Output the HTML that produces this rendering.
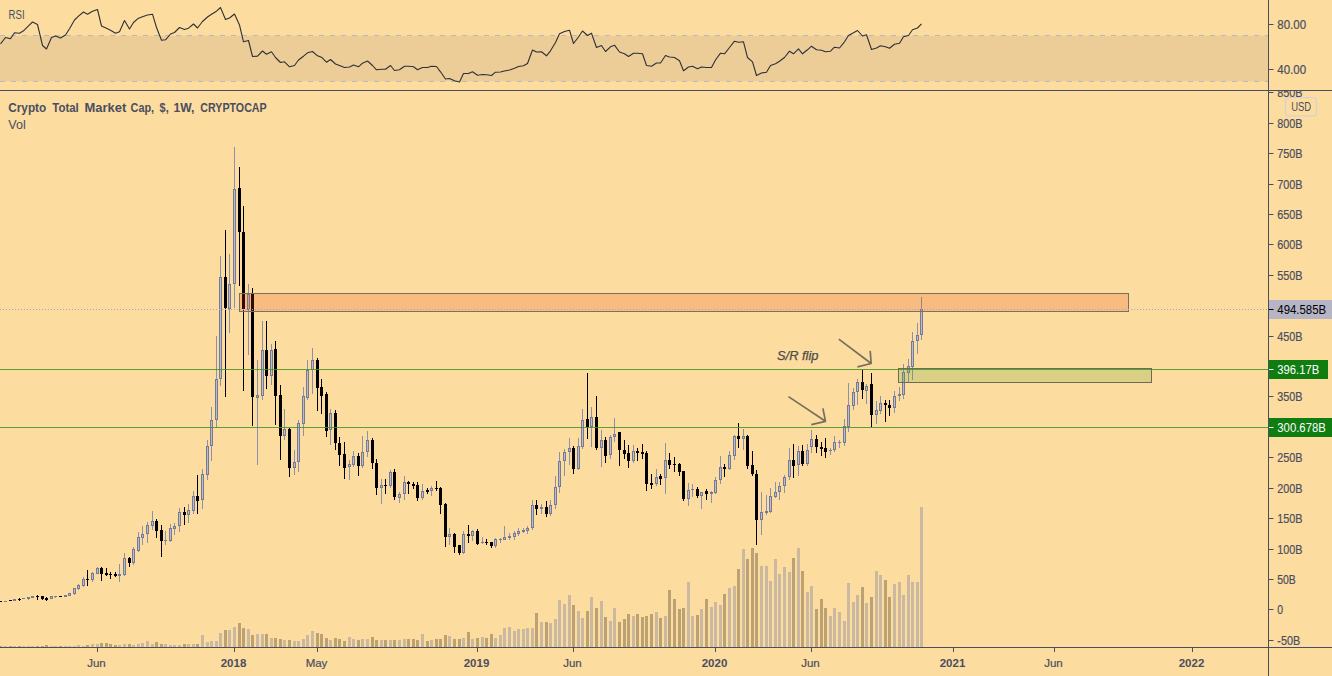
<!DOCTYPE html>
<html><head><meta charset="utf-8"><title>Crypto Total Market Cap</title>
<style>html,body{margin:0;padding:0;background:#fddca0;overflow:hidden}body{width:1332px;height:676px;font-family:"Liberation Sans",sans-serif}</style>
</head><body>
<svg width="1332" height="676" viewBox="0 0 1332 676" style="display:block" font-family="Liberation Sans, sans-serif">
<rect width="1332" height="676" fill="#fddca0"/>
<rect x="0" y="35.8" width="1268" height="45.4" fill="#eccd98"/>
<path d="M0 35.5H1268M0 81.5H1268" stroke="#b4b9c4" stroke-width="1" stroke-dasharray="5 6" fill="none"/>
<polyline points="0.5,43.8 5.5,37.5 10.5,38.8 14.5,32.8 19.5,33.2 23.5,30.8 28.5,25.8 32.5,22.0 37.5,24.5 42.5,45.5 46.5,49.0 51.5,37.5 55.5,36.0 60.5,38.0 65.5,35.0 69.5,28.8 74.5,20.0 78.5,16.2 83.5,12.0 87.5,14.2 92.5,11.2 97.5,9.5 101.5,26.0 106.5,28.2 110.5,30.2 115.5,33.2 119.5,31.8 124.5,20.5 129.5,29.0 133.5,22.5 138.5,18.2 142.5,16.8 147.5,15.0 152.5,14.2 156.5,27.5 161.5,40.2 165.5,39.8 170.5,34.0 174.5,32.5 179.5,27.5 184.5,29.5 188.5,28.2 193.5,24.0 197.5,28.0 202.5,21.5 207.5,17.0 211.5,14.2 216.5,11.2 220.5,7.5 225.5,19.5 229.5,18.0 234.5,14.0 239.5,25.0 243.5,41.8 248.5,40.5 252.5,56.5 257.5,56.2 262.5,51.0 266.5,54.2 271.5,51.8 275.5,57.5 280.5,62.5 284.5,61.8 289.5,66.8 294.5,65.5 298.5,60.0 303.5,56.2 307.5,52.8 312.5,51.5 317.5,55.8 321.5,57.2 326.5,62.2 330.5,59.5 335.5,64.0 339.5,65.5 344.5,67.5 349.5,67.0 353.5,65.0 358.5,66.8 362.5,63.2 367.5,61.0 372.5,65.5 376.5,69.8 381.5,69.2 385.5,69.2 390.5,65.5 394.5,70.5 399.5,69.8 404.5,66.2 408.5,66.2 413.5,66.8 417.5,69.8 422.5,67.5 427.5,67.5 431.5,66.2 436.5,66.5 440.5,71.8 445.5,79.0 449.5,78.5 454.5,80.8 459.5,82.0 463.5,73.5 468.5,73.5 472.5,71.8 477.5,75.2 482.5,74.5 486.5,74.8 491.5,75.5 495.5,72.2 500.5,72.0 504.5,71.0 509.5,70.0 514.5,68.2 518.5,66.5 523.5,65.8 527.5,63.5 532.5,50.0 536.5,52.0 541.5,51.8 546.5,55.8 550.5,50.8 555.5,42.5 559.5,33.8 564.5,31.5 569.5,30.2 573.5,43.5 578.5,37.0 582.5,31.0 587.5,35.5 591.5,33.2 596.5,47.5 601.5,45.5 605.5,51.5 610.5,46.8 614.5,45.2 619.5,52.0 624.5,53.8 628.5,56.5 633.5,53.2 637.5,53.2 642.5,53.8 646.5,65.5 651.5,66.2 656.5,63.0 660.5,63.0 665.5,55.5 669.5,57.0 674.5,57.5 679.5,60.8 683.5,70.8 688.5,67.0 692.5,66.2 697.5,68.8 701.5,67.0 706.5,67.5 711.5,67.5 715.5,60.0 720.5,53.2 724.5,53.8 729.5,47.5 734.5,41.2 738.5,42.2 743.5,41.8 747.5,57.5 752.5,61.8 756.5,75.5 761.5,73.0 766.5,72.2 770.5,65.5 775.5,63.8 779.5,61.2 784.5,57.5 789.5,51.2 793.5,53.8 798.5,48.8 802.5,53.8 807.5,49.8 811.5,46.2 816.5,49.8 821.5,50.2 825.5,51.8 830.5,51.2 834.5,47.2 839.5,48.0 844.5,41.8 848.5,35.5 853.5,32.8 857.5,30.5 862.5,36.0 866.5,34.8 871.5,49.5 876.5,48.0 880.5,45.8 885.5,46.8 889.5,48.2 894.5,44.2 899.5,43.2 903.5,36.8 908.5,35.5 912.5,29.8 917.5,28.0 921.5,23.8" fill="none" stroke="#2e3039" stroke-width="1.1" stroke-linejoin="round"/>
<g shape-rendering="crispEdges">
<rect x="-1" y="646.3" width="3" height="0.7" fill="#bca172"/>
<rect x="4" y="646.3" width="3" height="0.7" fill="#cab8a0"/>
<rect x="9" y="646.3" width="3" height="0.7" fill="#bca172"/>
<rect x="13" y="646.3" width="3" height="0.7" fill="#cab8a0"/>
<rect x="18" y="646.3" width="3" height="0.7" fill="#bca172"/>
<rect x="22" y="646.3" width="3" height="0.7" fill="#cab8a0"/>
<rect x="27" y="646.3" width="3" height="0.7" fill="#cab8a0"/>
<rect x="31" y="646.3" width="3" height="0.7" fill="#cab8a0"/>
<rect x="36" y="646.3" width="3" height="0.7" fill="#bca172"/>
<rect x="41" y="646.3" width="3" height="0.7" fill="#bca172"/>
<rect x="45" y="644.7" width="3" height="2.3" fill="#bca172"/>
<rect x="50" y="646.3" width="3" height="0.7" fill="#cab8a0"/>
<rect x="54" y="646.3" width="3" height="0.7" fill="#cab8a0"/>
<rect x="59" y="646.3" width="3" height="0.7" fill="#bca172"/>
<rect x="64" y="646.3" width="3" height="0.7" fill="#cab8a0"/>
<rect x="68" y="646.3" width="3" height="0.7" fill="#cab8a0"/>
<rect x="73" y="646.3" width="3" height="0.7" fill="#cab8a0"/>
<rect x="77" y="645.1" width="3" height="1.9" fill="#cab8a0"/>
<rect x="82" y="645.9" width="3" height="1.1" fill="#cab8a0"/>
<rect x="86" y="644.7" width="3" height="2.3" fill="#bca172"/>
<rect x="91" y="643.8" width="3" height="3.2" fill="#cab8a0"/>
<rect x="96" y="643.8" width="3" height="3.2" fill="#cab8a0"/>
<rect x="100" y="642.7" width="3" height="4.3" fill="#bca172"/>
<rect x="105" y="642.7" width="3" height="4.3" fill="#bca172"/>
<rect x="109" y="643.8" width="3" height="3.2" fill="#bca172"/>
<rect x="114" y="644.7" width="3" height="2.3" fill="#bca172"/>
<rect x="118" y="645.1" width="3" height="1.9" fill="#cab8a0"/>
<rect x="123" y="643.8" width="3" height="3.2" fill="#cab8a0"/>
<rect x="128" y="643.8" width="3" height="3.2" fill="#bca172"/>
<rect x="132" y="645.1" width="3" height="1.9" fill="#cab8a0"/>
<rect x="137" y="643.8" width="3" height="3.2" fill="#cab8a0"/>
<rect x="141" y="642.7" width="3" height="4.3" fill="#cab8a0"/>
<rect x="146" y="640.8" width="3" height="6.2" fill="#cab8a0"/>
<rect x="151" y="643.8" width="3" height="3.2" fill="#cab8a0"/>
<rect x="155" y="641.9" width="3" height="5.1" fill="#bca172"/>
<rect x="160" y="643.8" width="3" height="3.2" fill="#bca172"/>
<rect x="164" y="643.8" width="3" height="3.2" fill="#cab8a0"/>
<rect x="169" y="644.7" width="3" height="2.3" fill="#cab8a0"/>
<rect x="173" y="644.7" width="3" height="2.3" fill="#cab8a0"/>
<rect x="178" y="644.7" width="3" height="2.3" fill="#cab8a0"/>
<rect x="183" y="643.8" width="3" height="3.2" fill="#bca172"/>
<rect x="187" y="643.8" width="3" height="3.2" fill="#cab8a0"/>
<rect x="192" y="643.8" width="3" height="3.2" fill="#cab8a0"/>
<rect x="196" y="643.8" width="3" height="3.2" fill="#bca172"/>
<rect x="201" y="634.8" width="3" height="12.2" fill="#cab8a0"/>
<rect x="206" y="641.7" width="3" height="5.3" fill="#cab8a0"/>
<rect x="210" y="640.8" width="3" height="6.2" fill="#cab8a0"/>
<rect x="215" y="640.8" width="3" height="6.2" fill="#cab8a0"/>
<rect x="219" y="632.9" width="3" height="14.1" fill="#cab8a0"/>
<rect x="224" y="629.7" width="3" height="17.3" fill="#bca172"/>
<rect x="228" y="629.7" width="3" height="17.3" fill="#cab8a0"/>
<rect x="233" y="626.7" width="3" height="20.3" fill="#cab8a0"/>
<rect x="238" y="623.0" width="3" height="24.0" fill="#bca172"/>
<rect x="242" y="627.9" width="3" height="19.1" fill="#bca172"/>
<rect x="247" y="628.8" width="3" height="18.2" fill="#cab8a0"/>
<rect x="251" y="634.8" width="3" height="12.2" fill="#bca172"/>
<rect x="256" y="633.9" width="3" height="13.1" fill="#cab8a0"/>
<rect x="261" y="633.9" width="3" height="13.1" fill="#cab8a0"/>
<rect x="265" y="633.9" width="3" height="13.1" fill="#bca172"/>
<rect x="270" y="637.6" width="3" height="9.4" fill="#cab8a0"/>
<rect x="274" y="637.6" width="3" height="9.4" fill="#bca172"/>
<rect x="279" y="638.7" width="3" height="8.3" fill="#bca172"/>
<rect x="283" y="639.9" width="3" height="7.1" fill="#cab8a0"/>
<rect x="288" y="639.9" width="3" height="7.1" fill="#bca172"/>
<rect x="293" y="640.8" width="3" height="6.2" fill="#cab8a0"/>
<rect x="297" y="640.8" width="3" height="6.2" fill="#cab8a0"/>
<rect x="302" y="638.7" width="3" height="8.3" fill="#cab8a0"/>
<rect x="306" y="634.8" width="3" height="12.2" fill="#cab8a0"/>
<rect x="311" y="630.9" width="3" height="16.1" fill="#cab8a0"/>
<rect x="316" y="632.9" width="3" height="14.1" fill="#bca172"/>
<rect x="320" y="633.9" width="3" height="13.1" fill="#bca172"/>
<rect x="325" y="637.6" width="3" height="9.4" fill="#bca172"/>
<rect x="329" y="639.9" width="3" height="7.1" fill="#cab8a0"/>
<rect x="334" y="637.6" width="3" height="9.4" fill="#bca172"/>
<rect x="338" y="638.7" width="3" height="8.3" fill="#bca172"/>
<rect x="343" y="640.8" width="3" height="6.2" fill="#bca172"/>
<rect x="348" y="636.7" width="3" height="10.3" fill="#cab8a0"/>
<rect x="352" y="638.7" width="3" height="8.3" fill="#cab8a0"/>
<rect x="357" y="639.9" width="3" height="7.1" fill="#bca172"/>
<rect x="361" y="638.7" width="3" height="8.3" fill="#cab8a0"/>
<rect x="366" y="638.7" width="3" height="8.3" fill="#cab8a0"/>
<rect x="371" y="636.7" width="3" height="10.3" fill="#bca172"/>
<rect x="375" y="639.9" width="3" height="7.1" fill="#bca172"/>
<rect x="380" y="639.9" width="3" height="7.1" fill="#cab8a0"/>
<rect x="384" y="639.9" width="3" height="7.1" fill="#bca172"/>
<rect x="389" y="639.9" width="3" height="7.1" fill="#cab8a0"/>
<rect x="393" y="639.9" width="3" height="7.1" fill="#bca172"/>
<rect x="398" y="639.9" width="3" height="7.1" fill="#cab8a0"/>
<rect x="403" y="638.7" width="3" height="8.3" fill="#cab8a0"/>
<rect x="407" y="638.7" width="3" height="8.3" fill="#bca172"/>
<rect x="412" y="638.7" width="3" height="8.3" fill="#bca172"/>
<rect x="416" y="639.9" width="3" height="7.1" fill="#bca172"/>
<rect x="421" y="633.9" width="3" height="13.1" fill="#cab8a0"/>
<rect x="426" y="640.8" width="3" height="6.2" fill="#bca172"/>
<rect x="430" y="639.9" width="3" height="7.1" fill="#cab8a0"/>
<rect x="435" y="638.7" width="3" height="8.3" fill="#bca172"/>
<rect x="439" y="638.7" width="3" height="8.3" fill="#bca172"/>
<rect x="444" y="634.8" width="3" height="12.2" fill="#bca172"/>
<rect x="448" y="635.7" width="3" height="11.3" fill="#cab8a0"/>
<rect x="453" y="638.7" width="3" height="8.3" fill="#bca172"/>
<rect x="458" y="638.7" width="3" height="8.3" fill="#bca172"/>
<rect x="462" y="637.6" width="3" height="9.4" fill="#cab8a0"/>
<rect x="467" y="631.6" width="3" height="15.4" fill="#bca172"/>
<rect x="471" y="638.9" width="3" height="8.1" fill="#cab8a0"/>
<rect x="476" y="638.0" width="3" height="9.0" fill="#bca172"/>
<rect x="481" y="637.1" width="3" height="9.9" fill="#cab8a0"/>
<rect x="485" y="638.0" width="3" height="9.0" fill="#bca172"/>
<rect x="490" y="633.9" width="3" height="13.1" fill="#bca172"/>
<rect x="494" y="638.0" width="3" height="9.0" fill="#cab8a0"/>
<rect x="499" y="635.0" width="3" height="12.0" fill="#cab8a0"/>
<rect x="503" y="627.9" width="3" height="19.1" fill="#cab8a0"/>
<rect x="508" y="626.9" width="3" height="20.1" fill="#cab8a0"/>
<rect x="513" y="631.0" width="3" height="16.0" fill="#cab8a0"/>
<rect x="517" y="629.0" width="3" height="18.0" fill="#cab8a0"/>
<rect x="522" y="629.0" width="3" height="18.0" fill="#cab8a0"/>
<rect x="526" y="627.9" width="3" height="19.1" fill="#cab8a0"/>
<rect x="531" y="627.9" width="3" height="19.1" fill="#cab8a0"/>
<rect x="535" y="612.8" width="3" height="34.2" fill="#bca172"/>
<rect x="540" y="621.8" width="3" height="25.2" fill="#cab8a0"/>
<rect x="545" y="621.8" width="3" height="25.2" fill="#bca172"/>
<rect x="549" y="623.0" width="3" height="24.0" fill="#cab8a0"/>
<rect x="554" y="618.8" width="3" height="28.2" fill="#cab8a0"/>
<rect x="558" y="599.9" width="3" height="47.1" fill="#cab8a0"/>
<rect x="563" y="603.8" width="3" height="43.2" fill="#cab8a0"/>
<rect x="568" y="594.8" width="3" height="52.2" fill="#cab8a0"/>
<rect x="572" y="604.8" width="3" height="42.2" fill="#bca172"/>
<rect x="577" y="611.0" width="3" height="36.0" fill="#cab8a0"/>
<rect x="581" y="617.9" width="3" height="29.1" fill="#cab8a0"/>
<rect x="586" y="611.0" width="3" height="36.0" fill="#bca172"/>
<rect x="590" y="596.9" width="3" height="50.1" fill="#cab8a0"/>
<rect x="595" y="608.0" width="3" height="39.0" fill="#bca172"/>
<rect x="600" y="600.8" width="3" height="46.2" fill="#cab8a0"/>
<rect x="604" y="617.0" width="3" height="30.0" fill="#bca172"/>
<rect x="609" y="620.9" width="3" height="26.1" fill="#cab8a0"/>
<rect x="613" y="608.0" width="3" height="39.0" fill="#cab8a0"/>
<rect x="618" y="621.8" width="3" height="25.2" fill="#bca172"/>
<rect x="623" y="618.8" width="3" height="28.2" fill="#bca172"/>
<rect x="627" y="614.0" width="3" height="33.0" fill="#bca172"/>
<rect x="632" y="615.8" width="3" height="31.2" fill="#cab8a0"/>
<rect x="636" y="614.0" width="3" height="33.0" fill="#bca172"/>
<rect x="641" y="617.0" width="3" height="30.0" fill="#bca172"/>
<rect x="645" y="615.8" width="3" height="31.2" fill="#bca172"/>
<rect x="650" y="614.0" width="3" height="33.0" fill="#bca172"/>
<rect x="655" y="611.9" width="3" height="35.1" fill="#cab8a0"/>
<rect x="659" y="617.9" width="3" height="29.1" fill="#bca172"/>
<rect x="664" y="615.8" width="3" height="31.2" fill="#cab8a0"/>
<rect x="668" y="589.8" width="3" height="57.2" fill="#bca172"/>
<rect x="673" y="598.8" width="3" height="48.2" fill="#bca172"/>
<rect x="678" y="608.9" width="3" height="38.1" fill="#bca172"/>
<rect x="682" y="608.0" width="3" height="39.0" fill="#bca172"/>
<rect x="687" y="581.9" width="3" height="65.1" fill="#cab8a0"/>
<rect x="691" y="615.8" width="3" height="31.2" fill="#cab8a0"/>
<rect x="696" y="614.9" width="3" height="32.1" fill="#bca172"/>
<rect x="700" y="608.7" width="3" height="38.3" fill="#cab8a0"/>
<rect x="705" y="598.7" width="3" height="48.3" fill="#bca172"/>
<rect x="710" y="606.7" width="3" height="40.3" fill="#cab8a0"/>
<rect x="714" y="601.8" width="3" height="45.2" fill="#cab8a0"/>
<rect x="719" y="604.6" width="3" height="42.4" fill="#cab8a0"/>
<rect x="723" y="593.6" width="3" height="53.4" fill="#bca172"/>
<rect x="728" y="587.6" width="3" height="59.4" fill="#cab8a0"/>
<rect x="733" y="585.5" width="3" height="61.5" fill="#cab8a0"/>
<rect x="737" y="568.6" width="3" height="78.4" fill="#bca172"/>
<rect x="742" y="548.6" width="3" height="98.4" fill="#cab8a0"/>
<rect x="746" y="558.7" width="3" height="88.3" fill="#bca172"/>
<rect x="751" y="547.5" width="3" height="99.5" fill="#bca172"/>
<rect x="755" y="552.7" width="3" height="94.3" fill="#bca172"/>
<rect x="760" y="565.7" width="3" height="81.3" fill="#cab8a0"/>
<rect x="765" y="565.7" width="3" height="81.3" fill="#cab8a0"/>
<rect x="769" y="580.6" width="3" height="66.4" fill="#cab8a0"/>
<rect x="774" y="558.7" width="3" height="88.3" fill="#cab8a0"/>
<rect x="778" y="573.6" width="3" height="73.4" fill="#cab8a0"/>
<rect x="783" y="566.8" width="3" height="80.2" fill="#cab8a0"/>
<rect x="788" y="571.7" width="3" height="75.3" fill="#cab8a0"/>
<rect x="792" y="557.7" width="3" height="89.3" fill="#bca172"/>
<rect x="797" y="547.5" width="3" height="99.5" fill="#cab8a0"/>
<rect x="801" y="570.7" width="3" height="76.3" fill="#bca172"/>
<rect x="806" y="591.5" width="3" height="55.5" fill="#cab8a0"/>
<rect x="810" y="585.5" width="3" height="61.5" fill="#cab8a0"/>
<rect x="815" y="608.5" width="3" height="38.5" fill="#bca172"/>
<rect x="820" y="598.6" width="3" height="48.4" fill="#bca172"/>
<rect x="824" y="607.7" width="3" height="39.3" fill="#bca172"/>
<rect x="829" y="615.5" width="3" height="31.5" fill="#cab8a0"/>
<rect x="833" y="607.7" width="3" height="39.3" fill="#cab8a0"/>
<rect x="838" y="611.6" width="3" height="35.4" fill="#cab8a0"/>
<rect x="843" y="620.7" width="3" height="26.3" fill="#cab8a0"/>
<rect x="847" y="582.7" width="3" height="64.3" fill="#cab8a0"/>
<rect x="852" y="601.7" width="3" height="45.3" fill="#cab8a0"/>
<rect x="856" y="594.7" width="3" height="52.3" fill="#cab8a0"/>
<rect x="861" y="586.6" width="3" height="60.4" fill="#bca172"/>
<rect x="865" y="602.7" width="3" height="44.3" fill="#cab8a0"/>
<rect x="870" y="596.5" width="3" height="50.5" fill="#bca172"/>
<rect x="875" y="570.7" width="3" height="76.3" fill="#cab8a0"/>
<rect x="879" y="574.6" width="3" height="72.4" fill="#cab8a0"/>
<rect x="884" y="579.6" width="3" height="67.4" fill="#bca172"/>
<rect x="888" y="596.5" width="3" height="50.5" fill="#bca172"/>
<rect x="893" y="583.7" width="3" height="63.3" fill="#cab8a0"/>
<rect x="898" y="581.6" width="3" height="65.4" fill="#cab8a0"/>
<rect x="902" y="594.7" width="3" height="52.3" fill="#cab8a0"/>
<rect x="907" y="574.6" width="3" height="72.4" fill="#cab8a0"/>
<rect x="911" y="581.6" width="3" height="65.4" fill="#cab8a0"/>
<rect x="916" y="581.6" width="3" height="65.4" fill="#cab8a0"/>
<rect x="920" y="507.4" width="3" height="139.6" fill="#cab8a0"/>
</g>
<g shape-rendering="crispEdges">
<rect x="0" y="601" width="1" height="1" fill="#000000"/>
<rect x="-1" y="601" width="3" height="1" fill="#000000"/>
<rect x="5" y="601" width="1" height="1" fill="#8b90ac"/>
<rect x="4" y="601" width="3" height="1" fill="#747a96"/>
<rect x="10" y="600" width="1" height="1" fill="#000000"/>
<rect x="9" y="600" width="3" height="1" fill="#000000"/>
<rect x="14" y="599" width="1" height="2" fill="#8b90ac"/>
<rect x="13" y="599" width="3" height="2" fill="#747a96"/>
<rect x="19" y="598" width="1" height="3" fill="#000000"/>
<rect x="18" y="599" width="3" height="1" fill="#000000"/>
<rect x="23" y="598" width="1" height="1" fill="#8b90ac"/>
<rect x="22" y="598" width="3" height="1" fill="#747a96"/>
<rect x="28" y="597" width="1" height="3" fill="#8b90ac"/>
<rect x="27" y="597" width="3" height="2" fill="#747a96"/>
<rect x="32" y="596" width="1" height="2" fill="#8b90ac"/>
<rect x="31" y="596" width="3" height="2" fill="#747a96"/>
<rect x="37" y="595" width="1" height="5" fill="#000000"/>
<rect x="36" y="596" width="3" height="1" fill="#000000"/>
<rect x="42" y="596" width="1" height="4" fill="#000000"/>
<rect x="41" y="596" width="3" height="3" fill="#000000"/>
<rect x="46" y="597" width="1" height="4" fill="#000000"/>
<rect x="45" y="598" width="3" height="2" fill="#000000"/>
<rect x="51" y="596" width="1" height="3" fill="#8b90ac"/>
<rect x="50" y="596" width="3" height="3" fill="#747a96"/>
<rect x="51" y="597" width="1" height="1" fill="#bbbcc9"/>
<rect x="55" y="596" width="1" height="2" fill="#8b90ac"/>
<rect x="54" y="596" width="3" height="1" fill="#747a96"/>
<rect x="60" y="596" width="1" height="1" fill="#000000"/>
<rect x="59" y="596" width="3" height="1" fill="#000000"/>
<rect x="65" y="595" width="1" height="2" fill="#8b90ac"/>
<rect x="64" y="595" width="3" height="2" fill="#747a96"/>
<rect x="69" y="593" width="1" height="3" fill="#8b90ac"/>
<rect x="68" y="593" width="3" height="3" fill="#747a96"/>
<rect x="69" y="594" width="1" height="1" fill="#bbbcc9"/>
<rect x="74" y="588" width="1" height="7" fill="#8b90ac"/>
<rect x="73" y="588" width="3" height="6" fill="#747a96"/>
<rect x="74" y="589" width="1" height="4" fill="#bbbcc9"/>
<rect x="78" y="584" width="1" height="6" fill="#8b90ac"/>
<rect x="77" y="585" width="3" height="4" fill="#747a96"/>
<rect x="78" y="586" width="1" height="2" fill="#bbbcc9"/>
<rect x="83" y="577" width="1" height="10" fill="#8b90ac"/>
<rect x="82" y="579" width="3" height="7" fill="#747a96"/>
<rect x="83" y="580" width="1" height="5" fill="#bbbcc9"/>
<rect x="87" y="570" width="1" height="16" fill="#000000"/>
<rect x="86" y="579" width="3" height="1" fill="#000000"/>
<rect x="92" y="572" width="1" height="10" fill="#8b90ac"/>
<rect x="91" y="573" width="3" height="7" fill="#747a96"/>
<rect x="92" y="574" width="1" height="5" fill="#bbbcc9"/>
<rect x="97" y="567" width="1" height="7" fill="#8b90ac"/>
<rect x="96" y="568" width="3" height="6" fill="#747a96"/>
<rect x="97" y="569" width="1" height="4" fill="#bbbcc9"/>
<rect x="101" y="567" width="1" height="14" fill="#000000"/>
<rect x="100" y="568" width="3" height="6" fill="#000000"/>
<rect x="106" y="568" width="1" height="8" fill="#000000"/>
<rect x="105" y="573" width="3" height="2" fill="#000000"/>
<rect x="110" y="572" width="1" height="7" fill="#000000"/>
<rect x="109" y="574" width="3" height="1" fill="#000000"/>
<rect x="115" y="572" width="1" height="5" fill="#000000"/>
<rect x="114" y="574" width="3" height="2" fill="#000000"/>
<rect x="119" y="564" width="1" height="18" fill="#8b90ac"/>
<rect x="118" y="574" width="3" height="2" fill="#747a96"/>
<rect x="124" y="553" width="1" height="23" fill="#8b90ac"/>
<rect x="123" y="558" width="3" height="17" fill="#747a96"/>
<rect x="124" y="559" width="1" height="15" fill="#bbbcc9"/>
<rect x="129" y="557" width="1" height="10" fill="#000000"/>
<rect x="128" y="558" width="3" height="5" fill="#000000"/>
<rect x="133" y="547" width="1" height="18" fill="#8b90ac"/>
<rect x="132" y="549" width="3" height="14" fill="#747a96"/>
<rect x="133" y="550" width="1" height="12" fill="#bbbcc9"/>
<rect x="138" y="532" width="1" height="20" fill="#8b90ac"/>
<rect x="137" y="537" width="3" height="14" fill="#747a96"/>
<rect x="138" y="538" width="1" height="12" fill="#bbbcc9"/>
<rect x="142" y="526" width="1" height="19" fill="#8b90ac"/>
<rect x="141" y="534" width="3" height="4" fill="#747a96"/>
<rect x="142" y="535" width="1" height="2" fill="#bbbcc9"/>
<rect x="147" y="522" width="1" height="21" fill="#8b90ac"/>
<rect x="146" y="525" width="3" height="9" fill="#747a96"/>
<rect x="147" y="526" width="1" height="7" fill="#bbbcc9"/>
<rect x="152" y="511" width="1" height="19" fill="#8b90ac"/>
<rect x="151" y="521" width="3" height="5" fill="#747a96"/>
<rect x="152" y="522" width="1" height="3" fill="#bbbcc9"/>
<rect x="156" y="519" width="1" height="19" fill="#000000"/>
<rect x="155" y="521" width="3" height="10" fill="#000000"/>
<rect x="161" y="525" width="1" height="32" fill="#000000"/>
<rect x="160" y="530" width="3" height="11" fill="#000000"/>
<rect x="165" y="531" width="1" height="14" fill="#8b90ac"/>
<rect x="164" y="540" width="3" height="1" fill="#747a96"/>
<rect x="170" y="524" width="1" height="18" fill="#8b90ac"/>
<rect x="169" y="528" width="3" height="13" fill="#747a96"/>
<rect x="170" y="529" width="1" height="11" fill="#bbbcc9"/>
<rect x="174" y="523" width="1" height="12" fill="#8b90ac"/>
<rect x="173" y="526" width="3" height="3" fill="#747a96"/>
<rect x="174" y="527" width="1" height="1" fill="#bbbcc9"/>
<rect x="179" y="508" width="1" height="24" fill="#8b90ac"/>
<rect x="178" y="512" width="3" height="14" fill="#747a96"/>
<rect x="179" y="513" width="1" height="12" fill="#bbbcc9"/>
<rect x="184" y="507" width="1" height="18" fill="#000000"/>
<rect x="183" y="512" width="3" height="3" fill="#000000"/>
<rect x="188" y="504" width="1" height="19" fill="#8b90ac"/>
<rect x="187" y="510" width="3" height="5" fill="#747a96"/>
<rect x="188" y="511" width="1" height="3" fill="#bbbcc9"/>
<rect x="193" y="491" width="1" height="23" fill="#8b90ac"/>
<rect x="192" y="496" width="3" height="15" fill="#747a96"/>
<rect x="193" y="497" width="1" height="13" fill="#bbbcc9"/>
<rect x="197" y="475" width="1" height="39" fill="#000000"/>
<rect x="196" y="496" width="3" height="5" fill="#000000"/>
<rect x="202" y="469" width="1" height="40" fill="#8b90ac"/>
<rect x="201" y="474" width="3" height="26" fill="#747a96"/>
<rect x="202" y="475" width="1" height="24" fill="#bbbcc9"/>
<rect x="207" y="440" width="1" height="40" fill="#8b90ac"/>
<rect x="206" y="446" width="3" height="29" fill="#747a96"/>
<rect x="207" y="447" width="1" height="27" fill="#bbbcc9"/>
<rect x="211" y="407" width="1" height="54" fill="#8b90ac"/>
<rect x="210" y="420" width="3" height="26" fill="#747a96"/>
<rect x="211" y="421" width="1" height="24" fill="#bbbcc9"/>
<rect x="216" y="336" width="1" height="92" fill="#8b90ac"/>
<rect x="215" y="379" width="3" height="41" fill="#747a96"/>
<rect x="216" y="380" width="1" height="39" fill="#bbbcc9"/>
<rect x="220" y="256" width="1" height="130" fill="#8b90ac"/>
<rect x="219" y="277" width="3" height="102" fill="#747a96"/>
<rect x="220" y="278" width="1" height="100" fill="#bbbcc9"/>
<rect x="225" y="230" width="1" height="167" fill="#000000"/>
<rect x="224" y="277" width="3" height="31" fill="#000000"/>
<rect x="229" y="254" width="1" height="79" fill="#8b90ac"/>
<rect x="228" y="284" width="3" height="25" fill="#747a96"/>
<rect x="229" y="285" width="1" height="23" fill="#bbbcc9"/>
<rect x="234" y="147" width="1" height="161" fill="#8b90ac"/>
<rect x="233" y="189" width="3" height="95" fill="#747a96"/>
<rect x="234" y="190" width="1" height="93" fill="#bbbcc9"/>
<rect x="239" y="167" width="1" height="119" fill="#000000"/>
<rect x="238" y="188" width="3" height="44" fill="#000000"/>
<rect x="243" y="206" width="1" height="185" fill="#000000"/>
<rect x="242" y="232" width="3" height="77" fill="#000000"/>
<rect x="248" y="284" width="1" height="71" fill="#8b90ac"/>
<rect x="247" y="294" width="3" height="16" fill="#747a96"/>
<rect x="248" y="295" width="1" height="14" fill="#bbbcc9"/>
<rect x="252" y="288" width="1" height="138" fill="#000000"/>
<rect x="251" y="294" width="3" height="103" fill="#000000"/>
<rect x="257" y="360" width="1" height="105" fill="#8b90ac"/>
<rect x="256" y="395" width="3" height="3" fill="#747a96"/>
<rect x="257" y="396" width="1" height="1" fill="#bbbcc9"/>
<rect x="262" y="321" width="1" height="79" fill="#8b90ac"/>
<rect x="261" y="350" width="3" height="46" fill="#747a96"/>
<rect x="262" y="351" width="1" height="44" fill="#bbbcc9"/>
<rect x="266" y="321" width="1" height="68" fill="#000000"/>
<rect x="265" y="350" width="3" height="26" fill="#000000"/>
<rect x="271" y="344" width="1" height="41" fill="#8b90ac"/>
<rect x="270" y="350" width="3" height="26" fill="#747a96"/>
<rect x="271" y="351" width="1" height="24" fill="#bbbcc9"/>
<rect x="275" y="341" width="1" height="84" fill="#000000"/>
<rect x="274" y="349" width="3" height="47" fill="#000000"/>
<rect x="280" y="385" width="1" height="75" fill="#000000"/>
<rect x="279" y="395" width="3" height="41" fill="#000000"/>
<rect x="284" y="409" width="1" height="31" fill="#8b90ac"/>
<rect x="283" y="429" width="3" height="7" fill="#747a96"/>
<rect x="284" y="430" width="1" height="5" fill="#bbbcc9"/>
<rect x="289" y="428" width="1" height="49" fill="#000000"/>
<rect x="288" y="429" width="3" height="39" fill="#000000"/>
<rect x="294" y="450" width="1" height="25" fill="#8b90ac"/>
<rect x="293" y="462" width="3" height="6" fill="#747a96"/>
<rect x="294" y="463" width="1" height="4" fill="#bbbcc9"/>
<rect x="298" y="420" width="1" height="52" fill="#8b90ac"/>
<rect x="297" y="423" width="3" height="39" fill="#747a96"/>
<rect x="298" y="424" width="1" height="37" fill="#bbbcc9"/>
<rect x="303" y="387" width="1" height="49" fill="#8b90ac"/>
<rect x="302" y="396" width="3" height="28" fill="#747a96"/>
<rect x="303" y="397" width="1" height="26" fill="#bbbcc9"/>
<rect x="307" y="360" width="1" height="40" fill="#8b90ac"/>
<rect x="306" y="370" width="3" height="28" fill="#747a96"/>
<rect x="307" y="371" width="1" height="26" fill="#bbbcc9"/>
<rect x="312" y="348" width="1" height="46" fill="#8b90ac"/>
<rect x="311" y="360" width="3" height="10" fill="#747a96"/>
<rect x="312" y="361" width="1" height="8" fill="#bbbcc9"/>
<rect x="317" y="358" width="1" height="53" fill="#000000"/>
<rect x="316" y="360" width="3" height="28" fill="#000000"/>
<rect x="321" y="379" width="1" height="35" fill="#000000"/>
<rect x="320" y="387" width="3" height="9" fill="#000000"/>
<rect x="326" y="392" width="1" height="45" fill="#000000"/>
<rect x="325" y="394" width="3" height="37" fill="#000000"/>
<rect x="330" y="409" width="1" height="36" fill="#8b90ac"/>
<rect x="329" y="413" width="3" height="17" fill="#747a96"/>
<rect x="330" y="414" width="1" height="15" fill="#bbbcc9"/>
<rect x="335" y="410" width="1" height="40" fill="#000000"/>
<rect x="334" y="413" width="3" height="30" fill="#000000"/>
<rect x="339" y="437" width="1" height="29" fill="#000000"/>
<rect x="338" y="443" width="3" height="12" fill="#000000"/>
<rect x="344" y="442" width="1" height="37" fill="#000000"/>
<rect x="343" y="454" width="3" height="14" fill="#000000"/>
<rect x="349" y="460" width="1" height="20" fill="#8b90ac"/>
<rect x="348" y="464" width="3" height="3" fill="#747a96"/>
<rect x="349" y="465" width="1" height="1" fill="#bbbcc9"/>
<rect x="353" y="451" width="1" height="16" fill="#8b90ac"/>
<rect x="352" y="456" width="3" height="9" fill="#747a96"/>
<rect x="353" y="457" width="1" height="7" fill="#bbbcc9"/>
<rect x="358" y="453" width="1" height="23" fill="#000000"/>
<rect x="357" y="456" width="3" height="10" fill="#000000"/>
<rect x="362" y="436" width="1" height="32" fill="#8b90ac"/>
<rect x="361" y="452" width="3" height="14" fill="#747a96"/>
<rect x="362" y="453" width="1" height="12" fill="#bbbcc9"/>
<rect x="367" y="431" width="1" height="26" fill="#8b90ac"/>
<rect x="366" y="440" width="3" height="12" fill="#747a96"/>
<rect x="367" y="441" width="1" height="10" fill="#bbbcc9"/>
<rect x="372" y="438" width="1" height="31" fill="#000000"/>
<rect x="371" y="440" width="3" height="23" fill="#000000"/>
<rect x="376" y="459" width="1" height="36" fill="#000000"/>
<rect x="375" y="463" width="3" height="25" fill="#000000"/>
<rect x="381" y="479" width="1" height="25" fill="#8b90ac"/>
<rect x="380" y="485" width="3" height="3" fill="#747a96"/>
<rect x="381" y="486" width="1" height="1" fill="#bbbcc9"/>
<rect x="385" y="479" width="1" height="15" fill="#000000"/>
<rect x="384" y="485" width="3" height="1" fill="#000000"/>
<rect x="390" y="470" width="1" height="18" fill="#8b90ac"/>
<rect x="389" y="472" width="3" height="14" fill="#747a96"/>
<rect x="390" y="473" width="1" height="12" fill="#bbbcc9"/>
<rect x="394" y="469" width="1" height="31" fill="#000000"/>
<rect x="393" y="472" width="3" height="25" fill="#000000"/>
<rect x="399" y="492" width="1" height="11" fill="#8b90ac"/>
<rect x="398" y="494" width="3" height="4" fill="#747a96"/>
<rect x="399" y="495" width="1" height="2" fill="#bbbcc9"/>
<rect x="404" y="476" width="1" height="24" fill="#8b90ac"/>
<rect x="403" y="482" width="3" height="12" fill="#747a96"/>
<rect x="404" y="483" width="1" height="10" fill="#bbbcc9"/>
<rect x="408" y="481" width="1" height="13" fill="#000000"/>
<rect x="407" y="482" width="3" height="2" fill="#000000"/>
<rect x="413" y="482" width="1" height="7" fill="#000000"/>
<rect x="412" y="484" width="3" height="2" fill="#000000"/>
<rect x="417" y="482" width="1" height="19" fill="#000000"/>
<rect x="416" y="485" width="3" height="13" fill="#000000"/>
<rect x="422" y="484" width="1" height="16" fill="#8b90ac"/>
<rect x="421" y="491" width="3" height="7" fill="#747a96"/>
<rect x="422" y="492" width="1" height="5" fill="#bbbcc9"/>
<rect x="427" y="488" width="1" height="6" fill="#000000"/>
<rect x="426" y="490" width="3" height="2" fill="#000000"/>
<rect x="431" y="486" width="1" height="10" fill="#8b90ac"/>
<rect x="430" y="488" width="3" height="3" fill="#747a96"/>
<rect x="431" y="489" width="1" height="1" fill="#bbbcc9"/>
<rect x="436" y="481" width="1" height="10" fill="#000000"/>
<rect x="435" y="488" width="3" height="1" fill="#000000"/>
<rect x="440" y="487" width="1" height="27" fill="#000000"/>
<rect x="439" y="488" width="3" height="17" fill="#000000"/>
<rect x="445" y="503" width="1" height="44" fill="#000000"/>
<rect x="444" y="504" width="3" height="33" fill="#000000"/>
<rect x="449" y="528" width="1" height="17" fill="#8b90ac"/>
<rect x="448" y="534" width="3" height="3" fill="#747a96"/>
<rect x="449" y="535" width="1" height="1" fill="#bbbcc9"/>
<rect x="454" y="533" width="1" height="20" fill="#000000"/>
<rect x="453" y="534" width="3" height="13" fill="#000000"/>
<rect x="459" y="545" width="1" height="10" fill="#000000"/>
<rect x="458" y="545" width="3" height="8" fill="#000000"/>
<rect x="463" y="531" width="1" height="23" fill="#8b90ac"/>
<rect x="462" y="534" width="3" height="19" fill="#747a96"/>
<rect x="463" y="535" width="1" height="17" fill="#bbbcc9"/>
<rect x="468" y="525" width="1" height="18" fill="#000000"/>
<rect x="467" y="534" width="3" height="2" fill="#000000"/>
<rect x="472" y="530" width="1" height="11" fill="#8b90ac"/>
<rect x="471" y="531" width="3" height="5" fill="#747a96"/>
<rect x="472" y="532" width="1" height="3" fill="#bbbcc9"/>
<rect x="477" y="529" width="1" height="16" fill="#000000"/>
<rect x="476" y="531" width="3" height="13" fill="#000000"/>
<rect x="482" y="537" width="1" height="7" fill="#8b90ac"/>
<rect x="481" y="542" width="3" height="1" fill="#747a96"/>
<rect x="486" y="539" width="1" height="6" fill="#000000"/>
<rect x="485" y="542" width="3" height="1" fill="#000000"/>
<rect x="491" y="542" width="1" height="6" fill="#000000"/>
<rect x="490" y="542" width="3" height="4" fill="#000000"/>
<rect x="495" y="538" width="1" height="10" fill="#8b90ac"/>
<rect x="494" y="539" width="3" height="7" fill="#747a96"/>
<rect x="495" y="540" width="1" height="5" fill="#bbbcc9"/>
<rect x="500" y="538" width="1" height="5" fill="#8b90ac"/>
<rect x="499" y="539" width="3" height="1" fill="#747a96"/>
<rect x="504" y="526" width="1" height="14" fill="#8b90ac"/>
<rect x="503" y="537" width="3" height="3" fill="#747a96"/>
<rect x="504" y="538" width="1" height="1" fill="#bbbcc9"/>
<rect x="509" y="533" width="1" height="7" fill="#8b90ac"/>
<rect x="508" y="536" width="3" height="2" fill="#747a96"/>
<rect x="514" y="531" width="1" height="9" fill="#8b90ac"/>
<rect x="513" y="533" width="3" height="4" fill="#747a96"/>
<rect x="514" y="534" width="1" height="2" fill="#bbbcc9"/>
<rect x="518" y="528" width="1" height="8" fill="#8b90ac"/>
<rect x="517" y="531" width="3" height="3" fill="#747a96"/>
<rect x="518" y="532" width="1" height="1" fill="#bbbcc9"/>
<rect x="523" y="528" width="1" height="5" fill="#8b90ac"/>
<rect x="522" y="530" width="3" height="2" fill="#747a96"/>
<rect x="527" y="526" width="1" height="8" fill="#8b90ac"/>
<rect x="526" y="528" width="3" height="3" fill="#747a96"/>
<rect x="527" y="529" width="1" height="1" fill="#bbbcc9"/>
<rect x="532" y="500" width="1" height="30" fill="#8b90ac"/>
<rect x="531" y="505" width="3" height="23" fill="#747a96"/>
<rect x="532" y="506" width="1" height="21" fill="#bbbcc9"/>
<rect x="536" y="500" width="1" height="15" fill="#000000"/>
<rect x="535" y="505" width="3" height="4" fill="#000000"/>
<rect x="541" y="504" width="1" height="10" fill="#8b90ac"/>
<rect x="540" y="507" width="3" height="2" fill="#747a96"/>
<rect x="546" y="501" width="1" height="16" fill="#000000"/>
<rect x="545" y="507" width="3" height="7" fill="#000000"/>
<rect x="550" y="500" width="1" height="16" fill="#8b90ac"/>
<rect x="549" y="505" width="3" height="9" fill="#747a96"/>
<rect x="550" y="506" width="1" height="7" fill="#bbbcc9"/>
<rect x="555" y="476" width="1" height="33" fill="#8b90ac"/>
<rect x="554" y="487" width="3" height="18" fill="#747a96"/>
<rect x="555" y="488" width="1" height="16" fill="#bbbcc9"/>
<rect x="559" y="452" width="1" height="41" fill="#8b90ac"/>
<rect x="558" y="461" width="3" height="26" fill="#747a96"/>
<rect x="559" y="462" width="1" height="24" fill="#bbbcc9"/>
<rect x="564" y="449" width="1" height="27" fill="#8b90ac"/>
<rect x="563" y="452" width="3" height="9" fill="#747a96"/>
<rect x="564" y="453" width="1" height="7" fill="#bbbcc9"/>
<rect x="569" y="438" width="1" height="27" fill="#8b90ac"/>
<rect x="568" y="448" width="3" height="4" fill="#747a96"/>
<rect x="569" y="449" width="1" height="2" fill="#bbbcc9"/>
<rect x="573" y="446" width="1" height="28" fill="#000000"/>
<rect x="572" y="448" width="3" height="21" fill="#000000"/>
<rect x="578" y="438" width="1" height="32" fill="#8b90ac"/>
<rect x="577" y="446" width="3" height="23" fill="#747a96"/>
<rect x="578" y="447" width="1" height="21" fill="#bbbcc9"/>
<rect x="582" y="409" width="1" height="40" fill="#8b90ac"/>
<rect x="581" y="420" width="3" height="27" fill="#747a96"/>
<rect x="582" y="421" width="1" height="25" fill="#bbbcc9"/>
<rect x="587" y="373" width="1" height="66" fill="#000000"/>
<rect x="586" y="419" width="3" height="8" fill="#000000"/>
<rect x="591" y="407" width="1" height="40" fill="#8b90ac"/>
<rect x="590" y="417" width="3" height="10" fill="#747a96"/>
<rect x="591" y="418" width="1" height="8" fill="#bbbcc9"/>
<rect x="596" y="396" width="1" height="54" fill="#000000"/>
<rect x="595" y="417" width="3" height="31" fill="#000000"/>
<rect x="601" y="430" width="1" height="37" fill="#8b90ac"/>
<rect x="600" y="440" width="3" height="8" fill="#747a96"/>
<rect x="601" y="441" width="1" height="6" fill="#bbbcc9"/>
<rect x="605" y="437" width="1" height="26" fill="#000000"/>
<rect x="604" y="440" width="3" height="16" fill="#000000"/>
<rect x="610" y="435" width="1" height="24" fill="#8b90ac"/>
<rect x="609" y="437" width="3" height="18" fill="#747a96"/>
<rect x="610" y="438" width="1" height="16" fill="#bbbcc9"/>
<rect x="614" y="418" width="1" height="24" fill="#8b90ac"/>
<rect x="613" y="434" width="3" height="3" fill="#747a96"/>
<rect x="614" y="435" width="1" height="1" fill="#bbbcc9"/>
<rect x="619" y="432" width="1" height="34" fill="#000000"/>
<rect x="618" y="432" width="3" height="18" fill="#000000"/>
<rect x="624" y="440" width="1" height="19" fill="#000000"/>
<rect x="623" y="450" width="3" height="4" fill="#000000"/>
<rect x="628" y="445" width="1" height="23" fill="#000000"/>
<rect x="627" y="453" width="3" height="8" fill="#000000"/>
<rect x="633" y="445" width="1" height="18" fill="#8b90ac"/>
<rect x="632" y="451" width="3" height="10" fill="#747a96"/>
<rect x="633" y="452" width="1" height="8" fill="#bbbcc9"/>
<rect x="637" y="448" width="1" height="13" fill="#000000"/>
<rect x="636" y="451" width="3" height="2" fill="#000000"/>
<rect x="642" y="444" width="1" height="15" fill="#000000"/>
<rect x="641" y="452" width="3" height="2" fill="#000000"/>
<rect x="646" y="451" width="1" height="40" fill="#000000"/>
<rect x="645" y="453" width="3" height="31" fill="#000000"/>
<rect x="651" y="474" width="1" height="15" fill="#000000"/>
<rect x="650" y="483" width="3" height="2" fill="#000000"/>
<rect x="656" y="469" width="1" height="17" fill="#8b90ac"/>
<rect x="655" y="477" width="3" height="7" fill="#747a96"/>
<rect x="656" y="478" width="1" height="5" fill="#bbbcc9"/>
<rect x="660" y="474" width="1" height="11" fill="#000000"/>
<rect x="659" y="476" width="3" height="3" fill="#000000"/>
<rect x="665" y="443" width="1" height="51" fill="#8b90ac"/>
<rect x="664" y="460" width="3" height="18" fill="#747a96"/>
<rect x="665" y="461" width="1" height="16" fill="#bbbcc9"/>
<rect x="669" y="453" width="1" height="16" fill="#000000"/>
<rect x="668" y="460" width="3" height="5" fill="#000000"/>
<rect x="674" y="457" width="1" height="15" fill="#000000"/>
<rect x="673" y="464" width="3" height="1" fill="#000000"/>
<rect x="679" y="463" width="1" height="13" fill="#000000"/>
<rect x="678" y="464" width="3" height="8" fill="#000000"/>
<rect x="683" y="471" width="1" height="30" fill="#000000"/>
<rect x="682" y="471" width="3" height="28" fill="#000000"/>
<rect x="688" y="483" width="1" height="23" fill="#8b90ac"/>
<rect x="687" y="490" width="3" height="9" fill="#747a96"/>
<rect x="688" y="491" width="1" height="7" fill="#bbbcc9"/>
<rect x="692" y="484" width="1" height="13" fill="#8b90ac"/>
<rect x="691" y="489" width="3" height="1" fill="#747a96"/>
<rect x="697" y="487" width="1" height="11" fill="#000000"/>
<rect x="696" y="489" width="3" height="7" fill="#000000"/>
<rect x="701" y="492" width="1" height="17" fill="#8b90ac"/>
<rect x="700" y="492" width="3" height="4" fill="#747a96"/>
<rect x="701" y="493" width="1" height="2" fill="#bbbcc9"/>
<rect x="706" y="489" width="1" height="11" fill="#000000"/>
<rect x="705" y="491" width="3" height="3" fill="#000000"/>
<rect x="711" y="491" width="1" height="12" fill="#8b90ac"/>
<rect x="710" y="492" width="3" height="2" fill="#747a96"/>
<rect x="715" y="477" width="1" height="17" fill="#8b90ac"/>
<rect x="714" y="480" width="3" height="13" fill="#747a96"/>
<rect x="715" y="481" width="1" height="11" fill="#bbbcc9"/>
<rect x="720" y="456" width="1" height="28" fill="#8b90ac"/>
<rect x="719" y="467" width="3" height="13" fill="#747a96"/>
<rect x="720" y="468" width="1" height="11" fill="#bbbcc9"/>
<rect x="724" y="464" width="1" height="13" fill="#000000"/>
<rect x="723" y="467" width="3" height="2" fill="#000000"/>
<rect x="729" y="451" width="1" height="19" fill="#8b90ac"/>
<rect x="728" y="455" width="3" height="14" fill="#747a96"/>
<rect x="729" y="456" width="1" height="12" fill="#bbbcc9"/>
<rect x="734" y="435" width="1" height="25" fill="#8b90ac"/>
<rect x="733" y="436" width="3" height="20" fill="#747a96"/>
<rect x="734" y="437" width="1" height="18" fill="#bbbcc9"/>
<rect x="738" y="423" width="1" height="25" fill="#000000"/>
<rect x="737" y="436" width="3" height="3" fill="#000000"/>
<rect x="743" y="429" width="1" height="21" fill="#8b90ac"/>
<rect x="742" y="436" width="3" height="3" fill="#747a96"/>
<rect x="743" y="437" width="1" height="1" fill="#bbbcc9"/>
<rect x="747" y="435" width="1" height="34" fill="#000000"/>
<rect x="746" y="436" width="3" height="30" fill="#000000"/>
<rect x="752" y="451" width="1" height="25" fill="#000000"/>
<rect x="751" y="465" width="3" height="9" fill="#000000"/>
<rect x="756" y="470" width="1" height="75" fill="#000000"/>
<rect x="755" y="474" width="3" height="46" fill="#000000"/>
<rect x="761" y="492" width="1" height="43" fill="#8b90ac"/>
<rect x="760" y="512" width="3" height="8" fill="#747a96"/>
<rect x="761" y="513" width="1" height="6" fill="#bbbcc9"/>
<rect x="766" y="495" width="1" height="20" fill="#8b90ac"/>
<rect x="765" y="511" width="3" height="2" fill="#747a96"/>
<rect x="770" y="488" width="1" height="25" fill="#8b90ac"/>
<rect x="769" y="496" width="3" height="16" fill="#747a96"/>
<rect x="770" y="497" width="1" height="14" fill="#bbbcc9"/>
<rect x="775" y="482" width="1" height="16" fill="#8b90ac"/>
<rect x="774" y="492" width="3" height="5" fill="#747a96"/>
<rect x="775" y="493" width="1" height="3" fill="#bbbcc9"/>
<rect x="779" y="482" width="1" height="18" fill="#8b90ac"/>
<rect x="778" y="486" width="3" height="6" fill="#747a96"/>
<rect x="779" y="487" width="1" height="4" fill="#bbbcc9"/>
<rect x="784" y="475" width="1" height="18" fill="#8b90ac"/>
<rect x="783" y="477" width="3" height="9" fill="#747a96"/>
<rect x="784" y="478" width="1" height="7" fill="#bbbcc9"/>
<rect x="789" y="448" width="1" height="32" fill="#8b90ac"/>
<rect x="788" y="460" width="3" height="17" fill="#747a96"/>
<rect x="789" y="461" width="1" height="15" fill="#bbbcc9"/>
<rect x="793" y="444" width="1" height="34" fill="#000000"/>
<rect x="792" y="460" width="3" height="6" fill="#000000"/>
<rect x="798" y="446" width="1" height="30" fill="#8b90ac"/>
<rect x="797" y="451" width="3" height="14" fill="#747a96"/>
<rect x="798" y="452" width="1" height="12" fill="#bbbcc9"/>
<rect x="802" y="445" width="1" height="21" fill="#000000"/>
<rect x="801" y="451" width="3" height="13" fill="#000000"/>
<rect x="807" y="444" width="1" height="22" fill="#8b90ac"/>
<rect x="806" y="450" width="3" height="14" fill="#747a96"/>
<rect x="807" y="451" width="1" height="12" fill="#bbbcc9"/>
<rect x="811" y="430" width="1" height="23" fill="#8b90ac"/>
<rect x="810" y="439" width="3" height="8" fill="#747a96"/>
<rect x="811" y="440" width="1" height="6" fill="#bbbcc9"/>
<rect x="816" y="435" width="1" height="18" fill="#000000"/>
<rect x="815" y="439" width="3" height="8" fill="#000000"/>
<rect x="821" y="442" width="1" height="14" fill="#000000"/>
<rect x="820" y="447" width="3" height="2" fill="#000000"/>
<rect x="825" y="438" width="1" height="20" fill="#000000"/>
<rect x="824" y="448" width="3" height="4" fill="#000000"/>
<rect x="830" y="448" width="1" height="7" fill="#8b90ac"/>
<rect x="829" y="450" width="3" height="1" fill="#747a96"/>
<rect x="834" y="436" width="1" height="16" fill="#8b90ac"/>
<rect x="833" y="442" width="3" height="8" fill="#747a96"/>
<rect x="834" y="443" width="1" height="6" fill="#bbbcc9"/>
<rect x="839" y="440" width="1" height="8" fill="#8b90ac"/>
<rect x="838" y="442" width="3" height="1" fill="#747a96"/>
<rect x="844" y="419" width="1" height="27" fill="#8b90ac"/>
<rect x="843" y="426" width="3" height="17" fill="#747a96"/>
<rect x="844" y="427" width="1" height="15" fill="#bbbcc9"/>
<rect x="848" y="383" width="1" height="49" fill="#8b90ac"/>
<rect x="847" y="405" width="3" height="22" fill="#747a96"/>
<rect x="848" y="406" width="1" height="20" fill="#bbbcc9"/>
<rect x="853" y="388" width="1" height="22" fill="#8b90ac"/>
<rect x="852" y="392" width="3" height="14" fill="#747a96"/>
<rect x="853" y="393" width="1" height="12" fill="#bbbcc9"/>
<rect x="857" y="379" width="1" height="26" fill="#8b90ac"/>
<rect x="856" y="382" width="3" height="10" fill="#747a96"/>
<rect x="857" y="383" width="1" height="8" fill="#bbbcc9"/>
<rect x="862" y="370" width="1" height="29" fill="#000000"/>
<rect x="861" y="382" width="3" height="8" fill="#000000"/>
<rect x="866" y="384" width="1" height="20" fill="#8b90ac"/>
<rect x="865" y="386" width="3" height="5" fill="#747a96"/>
<rect x="866" y="387" width="1" height="3" fill="#bbbcc9"/>
<rect x="871" y="373" width="1" height="54" fill="#000000"/>
<rect x="870" y="384" width="3" height="31" fill="#000000"/>
<rect x="876" y="401" width="1" height="23" fill="#8b90ac"/>
<rect x="875" y="410" width="3" height="5" fill="#747a96"/>
<rect x="876" y="411" width="1" height="3" fill="#bbbcc9"/>
<rect x="880" y="396" width="1" height="18" fill="#8b90ac"/>
<rect x="879" y="403" width="3" height="8" fill="#747a96"/>
<rect x="880" y="404" width="1" height="6" fill="#bbbcc9"/>
<rect x="885" y="400" width="1" height="22" fill="#000000"/>
<rect x="884" y="403" width="3" height="2" fill="#000000"/>
<rect x="889" y="400" width="1" height="16" fill="#000000"/>
<rect x="888" y="405" width="3" height="3" fill="#000000"/>
<rect x="894" y="391" width="1" height="22" fill="#8b90ac"/>
<rect x="893" y="396" width="3" height="12" fill="#747a96"/>
<rect x="894" y="397" width="1" height="10" fill="#bbbcc9"/>
<rect x="899" y="387" width="1" height="14" fill="#8b90ac"/>
<rect x="898" y="394" width="3" height="2" fill="#747a96"/>
<rect x="903" y="364" width="1" height="35" fill="#8b90ac"/>
<rect x="902" y="372" width="3" height="23" fill="#747a96"/>
<rect x="903" y="373" width="1" height="21" fill="#bbbcc9"/>
<rect x="908" y="359" width="1" height="23" fill="#8b90ac"/>
<rect x="907" y="366" width="3" height="7" fill="#747a96"/>
<rect x="908" y="367" width="1" height="5" fill="#bbbcc9"/>
<rect x="912" y="332" width="1" height="48" fill="#8b90ac"/>
<rect x="911" y="341" width="3" height="26" fill="#747a96"/>
<rect x="912" y="342" width="1" height="24" fill="#bbbcc9"/>
<rect x="917" y="323" width="1" height="31" fill="#8b90ac"/>
<rect x="916" y="335" width="3" height="6" fill="#747a96"/>
<rect x="917" y="336" width="1" height="4" fill="#bbbcc9"/>
<rect x="921" y="297" width="1" height="43" fill="#8b90ac"/>
<rect x="920" y="309" width="3" height="26" fill="#747a96"/>
<rect x="921" y="310" width="1" height="24" fill="#bbbcc9"/>
</g>
<path d="M0 369.5H1268M0 427.5H1268" stroke="#3f9420" stroke-opacity="0.85" stroke-width="1" fill="none"/>
<rect x="239.5" y="293.5" width="889" height="18" fill="#e43c00" fill-opacity="0.2" stroke="#777064" stroke-width="1"/>
<rect x="898.5" y="368.5" width="253" height="14" fill="#5aaa28" fill-opacity="0.22" stroke="#6b6c58" stroke-width="1"/>
<path d="M0 309.5H1268" stroke="#a3a6cc" stroke-width="1" stroke-dasharray="1 2" fill="none"/>
<g stroke="#776f5e" stroke-width="1.7" fill="none" stroke-linecap="butt" stroke-linejoin="bevel">
<path d="M788.5 396.6L825.5 421.3M822.9 408.3L825.5 421.3L811.3 424.6"/>
<path d="M838.8 339.1L871.2 363.5M870.2 350.9L871.2 363.5L857.4 366.8"/>
</g>
<text x="777" y="360" font-size="12" font-style="italic" fill="#4d4c48" stroke="#4d4c48" stroke-width="0.25" textLength="41.5" lengthAdjust="spacingAndGlyphs">S/R flip</text>
<path d="M0 90.5H1332M0 647.5H1332M1268.5 0V676" stroke="#4b4f5c" stroke-width="1" fill="none"/>
<text x="8.6" y="18.8" font-size="12" fill="#4a4e5e" textLength="16" lengthAdjust="spacingAndGlyphs">RSI</text>
<text x="8.3" y="111.6" font-size="12" font-weight="bold" fill="#4a4e5e" textLength="37.9" lengthAdjust="spacingAndGlyphs">Crypto</text>
<text x="52.3" y="111.6" font-size="12" font-weight="bold" fill="#4a4e5e" textLength="26.5" lengthAdjust="spacingAndGlyphs">Total</text>
<text x="84.5" y="111.6" font-size="12" font-weight="bold" fill="#4a4e5e" textLength="41.8" lengthAdjust="spacingAndGlyphs">Market</text>
<text x="130.6" y="111.6" font-size="12" font-weight="bold" fill="#4a4e5e" textLength="23.5" lengthAdjust="spacingAndGlyphs">Cap,</text>
<text x="159.6" y="111.6" font-size="12" font-weight="bold" fill="#4a4e5e" textLength="9.1" lengthAdjust="spacingAndGlyphs">$,</text>
<text x="173.5" y="111.6" font-size="12" font-weight="bold" fill="#4a4e5e" textLength="20.9" lengthAdjust="spacingAndGlyphs">1W,</text>
<text x="200.3" y="111.6" font-size="12" font-weight="bold" fill="#4a4e5e" textLength="66.4" lengthAdjust="spacingAndGlyphs">CRYPTOCAP</text>
<text x="8.3" y="129" font-size="12" fill="#4a4e5e" textLength="17.4" lengthAdjust="spacingAndGlyphs">Vol</text>
<path d="M1268.5 24.5H1273.5" stroke="#4b4f5c" stroke-width="1"/>
<text x="1277.3" y="28.8" font-size="12" fill="#4a4e5e" stroke="#4a4e5e" stroke-width="0.2" textLength="28.8" lengthAdjust="spacingAndGlyphs">80.00</text>
<path d="M1268.5 69.5H1273.5" stroke="#4b4f5c" stroke-width="1"/>
<text x="1277.3" y="73.8" font-size="12" fill="#4a4e5e" stroke="#4a4e5e" stroke-width="0.2" textLength="28.8" lengthAdjust="spacingAndGlyphs">40.00</text>
<clipPath id="cp"><rect x="1268" y="91" width="64" height="556"/></clipPath>
<g clip-path="url(#cp)">
<path d="M1268.5 92.5H1273.5" stroke="#4b4f5c" stroke-width="1"/>
<text x="1277.3" y="96.8" font-size="12" fill="#4a4e5e" stroke="#4a4e5e" stroke-width="0.2" textLength="25.2" lengthAdjust="spacingAndGlyphs">850B</text>
<path d="M1268.5 123.5H1273.5" stroke="#4b4f5c" stroke-width="1"/>
<text x="1277.3" y="127.8" font-size="12" fill="#4a4e5e" stroke="#4a4e5e" stroke-width="0.2" textLength="25.2" lengthAdjust="spacingAndGlyphs">800B</text>
<path d="M1268.5 153.5H1273.5" stroke="#4b4f5c" stroke-width="1"/>
<text x="1277.3" y="157.8" font-size="12" fill="#4a4e5e" stroke="#4a4e5e" stroke-width="0.2" textLength="25.2" lengthAdjust="spacingAndGlyphs">750B</text>
<path d="M1268.5 184.5H1273.5" stroke="#4b4f5c" stroke-width="1"/>
<text x="1277.3" y="188.8" font-size="12" fill="#4a4e5e" stroke="#4a4e5e" stroke-width="0.2" textLength="25.2" lengthAdjust="spacingAndGlyphs">700B</text>
<path d="M1268.5 214.5H1273.5" stroke="#4b4f5c" stroke-width="1"/>
<text x="1277.3" y="218.8" font-size="12" fill="#4a4e5e" stroke="#4a4e5e" stroke-width="0.2" textLength="25.2" lengthAdjust="spacingAndGlyphs">650B</text>
<path d="M1268.5 244.5H1273.5" stroke="#4b4f5c" stroke-width="1"/>
<text x="1277.3" y="248.8" font-size="12" fill="#4a4e5e" stroke="#4a4e5e" stroke-width="0.2" textLength="25.2" lengthAdjust="spacingAndGlyphs">600B</text>
<path d="M1268.5 275.5H1273.5" stroke="#4b4f5c" stroke-width="1"/>
<text x="1277.3" y="279.8" font-size="12" fill="#4a4e5e" stroke="#4a4e5e" stroke-width="0.2" textLength="25.2" lengthAdjust="spacingAndGlyphs">550B</text>
<path d="M1268.5 305.5H1273.5" stroke="#4b4f5c" stroke-width="1"/>
<text x="1277.3" y="309.8" font-size="12" fill="#4a4e5e" stroke="#4a4e5e" stroke-width="0.2" textLength="25.2" lengthAdjust="spacingAndGlyphs">500B</text>
<path d="M1268.5 336.5H1273.5" stroke="#4b4f5c" stroke-width="1"/>
<text x="1277.3" y="340.8" font-size="12" fill="#4a4e5e" stroke="#4a4e5e" stroke-width="0.2" textLength="25.2" lengthAdjust="spacingAndGlyphs">450B</text>
<path d="M1268.5 366.5H1273.5" stroke="#4b4f5c" stroke-width="1"/>
<text x="1277.3" y="370.8" font-size="12" fill="#4a4e5e" stroke="#4a4e5e" stroke-width="0.2" textLength="25.2" lengthAdjust="spacingAndGlyphs">400B</text>
<path d="M1268.5 396.5H1273.5" stroke="#4b4f5c" stroke-width="1"/>
<text x="1277.3" y="400.8" font-size="12" fill="#4a4e5e" stroke="#4a4e5e" stroke-width="0.2" textLength="25.2" lengthAdjust="spacingAndGlyphs">350B</text>
<path d="M1268.5 427.5H1273.5" stroke="#4b4f5c" stroke-width="1"/>
<text x="1277.3" y="431.8" font-size="12" fill="#4a4e5e" stroke="#4a4e5e" stroke-width="0.2" textLength="25.2" lengthAdjust="spacingAndGlyphs">300B</text>
<path d="M1268.5 457.5H1273.5" stroke="#4b4f5c" stroke-width="1"/>
<text x="1277.3" y="461.8" font-size="12" fill="#4a4e5e" stroke="#4a4e5e" stroke-width="0.2" textLength="25.2" lengthAdjust="spacingAndGlyphs">250B</text>
<path d="M1268.5 488.5H1273.5" stroke="#4b4f5c" stroke-width="1"/>
<text x="1277.3" y="492.8" font-size="12" fill="#4a4e5e" stroke="#4a4e5e" stroke-width="0.2" textLength="25.2" lengthAdjust="spacingAndGlyphs">200B</text>
<path d="M1268.5 518.5H1273.5" stroke="#4b4f5c" stroke-width="1"/>
<text x="1277.3" y="522.8" font-size="12" fill="#4a4e5e" stroke="#4a4e5e" stroke-width="0.2" textLength="25.2" lengthAdjust="spacingAndGlyphs">150B</text>
<path d="M1268.5 549.5H1273.5" stroke="#4b4f5c" stroke-width="1"/>
<text x="1277.3" y="553.8" font-size="12" fill="#4a4e5e" stroke="#4a4e5e" stroke-width="0.2" textLength="25.2" lengthAdjust="spacingAndGlyphs">100B</text>
<path d="M1268.5 579.5H1273.5" stroke="#4b4f5c" stroke-width="1"/>
<text x="1277.3" y="583.8" font-size="12" fill="#4a4e5e" stroke="#4a4e5e" stroke-width="0.2" textLength="18.5" lengthAdjust="spacingAndGlyphs">50B</text>
<path d="M1268.5 609.5H1273.5" stroke="#4b4f5c" stroke-width="1"/>
<text x="1277.3" y="613.8" font-size="12" fill="#4a4e5e" stroke="#4a4e5e" stroke-width="0.2" textLength="5.8" lengthAdjust="spacingAndGlyphs">0</text>
<path d="M1268.5 640.5H1273.5" stroke="#4b4f5c" stroke-width="1"/>
<text x="1277.3" y="644.8" font-size="12" fill="#4a4e5e" stroke="#4a4e5e" stroke-width="0.2" textLength="22.8" lengthAdjust="spacingAndGlyphs">-50B</text>
</g>
<rect x="1285.5" y="97.5" width="31" height="18.5" rx="3.5" fill="#fddca0" stroke="#d2d0de" stroke-width="1.2"/>
<text x="1291.2" y="111" font-size="12" fill="#4a4e5e" textLength="20" lengthAdjust="spacingAndGlyphs">USD</text>
<rect x="1269" y="300" width="63" height="19" fill="#b5b5c5"/>
<path d="M1269 309.5H1273.5" stroke="#000" stroke-width="1"/>
<text x="1277.3" y="313.8" font-size="12" fill="#000" textLength="48.8" lengthAdjust="spacingAndGlyphs">494.585B</text>
<rect x="1269" y="360" width="59" height="19" fill="#0f7d10"/>
<path d="M1269 369.5H1273.5" stroke="#fff" stroke-width="1"/>
<text x="1277.3" y="373.8" font-size="12" fill="#fff" textLength="42" lengthAdjust="spacingAndGlyphs">396.17B</text>
<rect x="1269" y="418" width="63" height="19" fill="#0f7d10"/>
<path d="M1269 427.5H1273.5" stroke="#fff" stroke-width="1"/>
<text x="1277.3" y="431.8" font-size="12" fill="#fff" textLength="48.5" lengthAdjust="spacingAndGlyphs">300.678B</text>
<path d="M97.5 647.5V652" stroke="#4b4f5c" stroke-width="1"/>
<text x="96.5" y="666.8" font-size="11.5" fill="#4a4e5e" text-anchor="middle" stroke="#4a4e5e" stroke-width="0.2">Jun</text>
<path d="M234.5 647.5V652" stroke="#4b4f5c" stroke-width="1"/>
<text x="233.5" y="666.8" font-size="11.5" fill="#4a4e5e" text-anchor="middle" font-weight="bold">2018</text>
<path d="M317.5 647.5V652" stroke="#4b4f5c" stroke-width="1"/>
<text x="316.5" y="666.8" font-size="11.5" fill="#4a4e5e" text-anchor="middle" stroke="#4a4e5e" stroke-width="0.2">May</text>
<path d="M477.5 647.5V652" stroke="#4b4f5c" stroke-width="1"/>
<text x="476.5" y="666.8" font-size="11.5" fill="#4a4e5e" text-anchor="middle" font-weight="bold">2019</text>
<path d="M573.5 647.5V652" stroke="#4b4f5c" stroke-width="1"/>
<text x="572.5" y="666.8" font-size="11.5" fill="#4a4e5e" text-anchor="middle" stroke="#4a4e5e" stroke-width="0.2">Jun</text>
<path d="M715.5 647.5V652" stroke="#4b4f5c" stroke-width="1"/>
<text x="714.5" y="666.8" font-size="11.5" fill="#4a4e5e" text-anchor="middle" font-weight="bold">2020</text>
<path d="M811.5 647.5V652" stroke="#4b4f5c" stroke-width="1"/>
<text x="810.5" y="666.8" font-size="11.5" fill="#4a4e5e" text-anchor="middle" stroke="#4a4e5e" stroke-width="0.2">Jun</text>
<path d="M953.5 647.5V652" stroke="#4b4f5c" stroke-width="1"/>
<text x="952.5" y="666.8" font-size="11.5" fill="#4a4e5e" text-anchor="middle" font-weight="bold">2021</text>
<path d="M1054.5 647.5V652" stroke="#4b4f5c" stroke-width="1"/>
<text x="1053.5" y="666.8" font-size="11.5" fill="#4a4e5e" text-anchor="middle" stroke="#4a4e5e" stroke-width="0.2">Jun</text>
<path d="M1192.5 647.5V652" stroke="#4b4f5c" stroke-width="1"/>
<text x="1191.5" y="666.8" font-size="11.5" fill="#4a4e5e" text-anchor="middle" font-weight="bold">2022</text>
</svg>
</body></html>
